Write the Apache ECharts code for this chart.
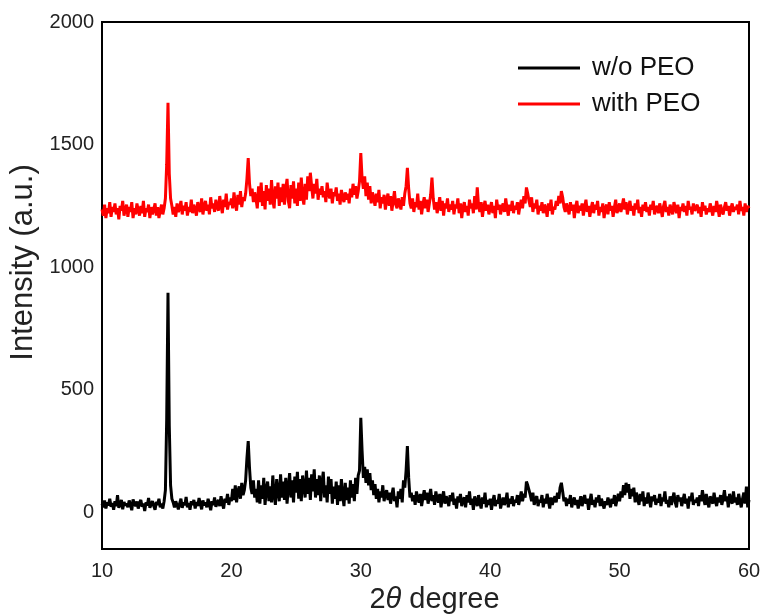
<!DOCTYPE html>
<html>
<head>
<meta charset="utf-8">
<script src="https://cdn.jsdelivr.net/npm/echarts@6/dist/echarts.min.js"></script>
<style>html,body{margin:0;padding:0;background:#fff}#c{width:766px;height:615px}</style>
</head>
<body>
<div id="c"></div>
<script>
// 2θ sampling of both patterns
const xStart = 10;
const xStep = 0.1;
const seriesNames = ['w/o PEO', 'with PEO'];
const xTicks = [10, 20, 30, 40, 50, 60];
const yTicks = [0, 500, 1000, 1500, 2000];

// w/o PEO intensities, 10.0 .. 60.0 step 0.1
const woPEO = [
35,20,48,15,40,28,55,22,38,10,
45,25,70,18,33,50,12,42,27,36,
20,48,30,8,52,35,25,44,15,38,
50,22,36,5,40,28,58,18,33,45,
25,10,42,30,55,20,35,15,45,90,
380,895,350,110,55,40,20,45,30,12,
35,55,18,40,28,62,20,38,10,45,
30,50,15,42,25,58,35,12,48,28,
40,20,55,32,8,45,30,60,22,38,
50,25,65,35,15,55,40,75,30,60,
45,95,50,110,40,85,105,55,120,70,
90,130,220,290,180,100,75,130,60,95,
40,130,35,110,55,140,30,95,125,45,
105,40,150,70,30,135,85,45,155,60,
125,50,140,35,100,160,60,130,40,145,
80,165,55,135,45,150,105,60,170,75,
140,50,155,85,175,60,135,70,150,45,
120,165,60,110,40,145,75,135,35,105,
55,125,30,110,45,135,70,25,120,50,
100,35,130,60,115,45,140,75,150,170,
385,250,140,185,120,175,110,160,90,130,
70,115,55,95,40,85,60,110,45,75,
90,50,80,35,70,100,45,65,20,85,
55,95,40,130,100,170,270,140,60,80,
45,70,30,85,55,40,75,25,60,90,
50,80,35,65,95,45,70,30,85,55,
40,75,20,60,85,35,65,50,25,70,
45,80,30,55,15,65,40,75,25,50,
60,20,70,40,85,30,55,10,65,45,
25,70,40,15,60,35,80,20,50,30,
55,10,45,70,25,50,35,75,15,40,
60,30,45,80,20,55,35,65,25,50,
40,70,30,55,85,45,75,60,125,110,
90,70,45,80,30,55,65,25,50,40,
70,20,55,35,75,45,15,60,30,50,
65,40,80,55,100,120,85,45,60,25,
55,35,70,20,45,60,30,50,15,40,
65,25,50,70,35,55,10,45,75,30,
50,20,60,40,70,25,55,35,15,45,
30,60,40,20,55,35,70,25,50,75,
45,85,60,110,70,120,80,115,55,95,
65,100,40,80,55,30,75,45,85,25,
60,35,80,50,20,65,45,70,30,55,
40,75,25,60,45,85,35,50,20,65,
30,55,80,40,20,70,45,60,25,50,
75,35,55,15,65,45,80,30,50,40,
60,25,70,45,90,55,30,75,40,20,
65,50,35,80,45,25,60,40,70,30,
55,90,45,65,20,75,50,35,85,40,
60,30,75,45,20,55,80,35,105,20,
50
];

// with PEO intensities, 10.0 .. 60.0 step 0.1
const withPEO = [
1235,1210,1255,1200,1240,1220,1265,1205,1245,1225,
1260,1215,1240,1195,1250,1230,1270,1210,1235,1255,
1205,1245,1225,1265,1200,1240,1215,1260,1230,1210,
1250,1220,1270,1205,1240,1225,1255,1200,1245,1215,
1235,1260,1210,1245,1200,1230,1255,1215,1240,1280,
1420,1670,1380,1280,1250,1215,1245,1205,1260,1225,
1240,1270,1215,1250,1230,1265,1210,1245,1225,1275,
1220,1255,1235,1210,1265,1240,1225,1280,1215,1250,
1270,1230,1255,1215,1285,1240,1260,1225,1275,1245,
1230,1290,1250,1220,1275,1245,1300,1235,1265,1255,
1280,1240,1305,1260,1230,1295,1255,1310,1245,1285,
1270,1300,1360,1445,1340,1290,1320,1265,1305,1280,
1240,1330,1265,1345,1250,1310,1235,1335,1270,1320,
1255,1355,1275,1240,1330,1280,1345,1250,1325,1265,
1340,1255,1320,1360,1270,1240,1335,1280,1350,1260,
1320,1250,1345,1270,1365,1285,1255,1340,1275,1370,
1310,1385,1330,1280,1340,1300,1360,1275,1320,1295,
1330,1285,1310,1265,1345,1300,1280,1320,1260,1305,
1290,1325,1270,1300,1255,1315,1285,1265,1305,1275,
1300,1260,1320,1285,1340,1295,1330,1280,1310,1350,
1465,1360,1320,1370,1290,1345,1275,1330,1260,1305,
1280,1250,1300,1265,1315,1240,1285,1260,1295,1235,
1275,1300,1250,1290,1230,1270,1310,1255,1240,1280,
1260,1235,1285,1250,1300,1330,1405,1320,1260,1240,
1280,1225,1265,1245,1300,1235,1270,1215,1255,1285,
1240,1275,1225,1260,1295,1365,1280,1235,1265,1220,
1250,1285,1230,1270,1210,1260,1240,1280,1225,1255,
1235,1270,1215,1255,1240,1280,1220,1260,1200,1245,
1265,1225,1250,1210,1275,1240,1260,1220,1290,1235,
1325,1250,1225,1265,1205,1245,1270,1230,1255,1215,
1240,1265,1220,1250,1200,1275,1235,1255,1215,1245,
1260,1225,1280,1240,1210,1255,1230,1270,1220,1250,
1235,1265,1215,1250,1275,1240,1290,1260,1325,1300,
1270,1245,1285,1225,1260,1240,1275,1215,1250,1230,
1265,1220,1255,1240,1205,1260,1230,1275,1215,1245,
1235,1270,1250,1290,1260,1310,1285,1245,1225,1260,
1240,1215,1265,1230,1255,1200,1245,1270,1220,1250,
1230,1260,1210,1245,1275,1225,1250,1205,1240,1265,
1220,1255,1235,1270,1210,1245,1225,1260,1200,1240,
1255,1215,1265,1230,1250,1205,1245,1275,1220,1240,
1260,1225,1250,1280,1235,1265,1215,1245,1270,1230,
1250,1210,1260,1235,1275,1220,1245,1205,1255,1230,
1265,1225,1245,1210,1255,1235,1270,1215,1240,1250,
1220,1260,1235,1205,1250,1270,1225,1245,1210,1255,
1235,1215,1265,1240,1220,1255,1200,1245,1230,1260,
1225,1250,1210,1270,1235,1245,1215,1260,1230,1240,
1255,1220,1245,1205,1265,1230,1250,1215,1240,1225,
1260,1235,1210,1250,1225,1270,1240,1205,1255,1230,
1215,1245,1265,1230,1250,1210,1240,1260,1225,1245,
1235,1255,1215,1270,1230,1245,1210,1260,1225,1250,
1240
];

function toPairs(arr) {
  return arr.map((v, i) => [+(xStart + i * xStep).toFixed(2), v]);
}

const chart = echarts.init(document.getElementById('c'), null, {renderer: 'canvas'});
const font = 'Liberation Sans, Arial, sans-serif';
chart.setOption({
  backgroundColor: '#ffffff',
  animation: false,
  grid: {left: 102, right: 17, top: 22, bottom: 66, containLabel: false, outerBoundsMode: 'none',
    show: true, borderColor: '#000', borderWidth: 2, backgroundColor: 'transparent'},
  legend: {
    orient: 'vertical', left: 518, top: 55, itemGap: 10, padding: 0,
    itemWidth: 62, itemHeight: 14,
    textStyle: {fontFamily: font, fontSize: 26, color: '#111', padding: [0, 0, 0, 7]},
    data: seriesNames.map(n => ({name: n, icon: 'path://M0,5.5 L62,5.5 L62,8.5 L0,8.5 Z'}))
  },
  xAxis: {
    type: 'value', min: xTicks[0], max: xTicks[xTicks.length - 1], interval: 10,
    axisLine: {show: true, onZero: false, lineStyle: {color: '#000', width: 2}},
    axisTick: {show: false}, splitLine: {show: false},
    axisLabel: {fontFamily: font, fontSize: 20, color: '#222', margin: 12},
    name: '2{i|θ} degree', nameLocation: 'middle', nameGap: 32,
    nameTextStyle: {fontFamily: font, fontSize: 29, color: '#222', padding: [0, 0, 0, 18],
      rich: {i: {fontFamily: font, fontSize: 29, fontStyle: 'italic', color: '#222'}}}
  },
  yAxis: {
    type: 'value', min: -150, max: 2000, interval: 50,
    axisLine: {show: true, onZero: false, lineStyle: {color: '#000', width: 2}},
    axisTick: {show: false}, splitLine: {show: false},
    axisLabel: {fontFamily: font, fontSize: 20, color: '#222', margin: 8,
      formatter: v => yTicks.includes(v) ? String(v) : ''},
    name: 'Intensity (a.u.)', nameLocation: 'middle', nameGap: 63, nameRotate: 90,
    nameTextStyle: {fontFamily: font, fontSize: 31, color: '#222', padding: [0, 0, 0, 46]}
  },
  series: [
    {name: seriesNames[0], type: 'line', data: toPairs(woPEO), symbol: 'none', lineStyle: {color: '#000', width: 3}, itemStyle: {color: '#000'}},
    {name: seriesNames[1], type: 'line', data: toPairs(withPEO), symbol: 'none', lineStyle: {color: '#ff0000', width: 3}, itemStyle: {color: '#ff0000'}}
  ]
});
</script>
</body>
</html>
